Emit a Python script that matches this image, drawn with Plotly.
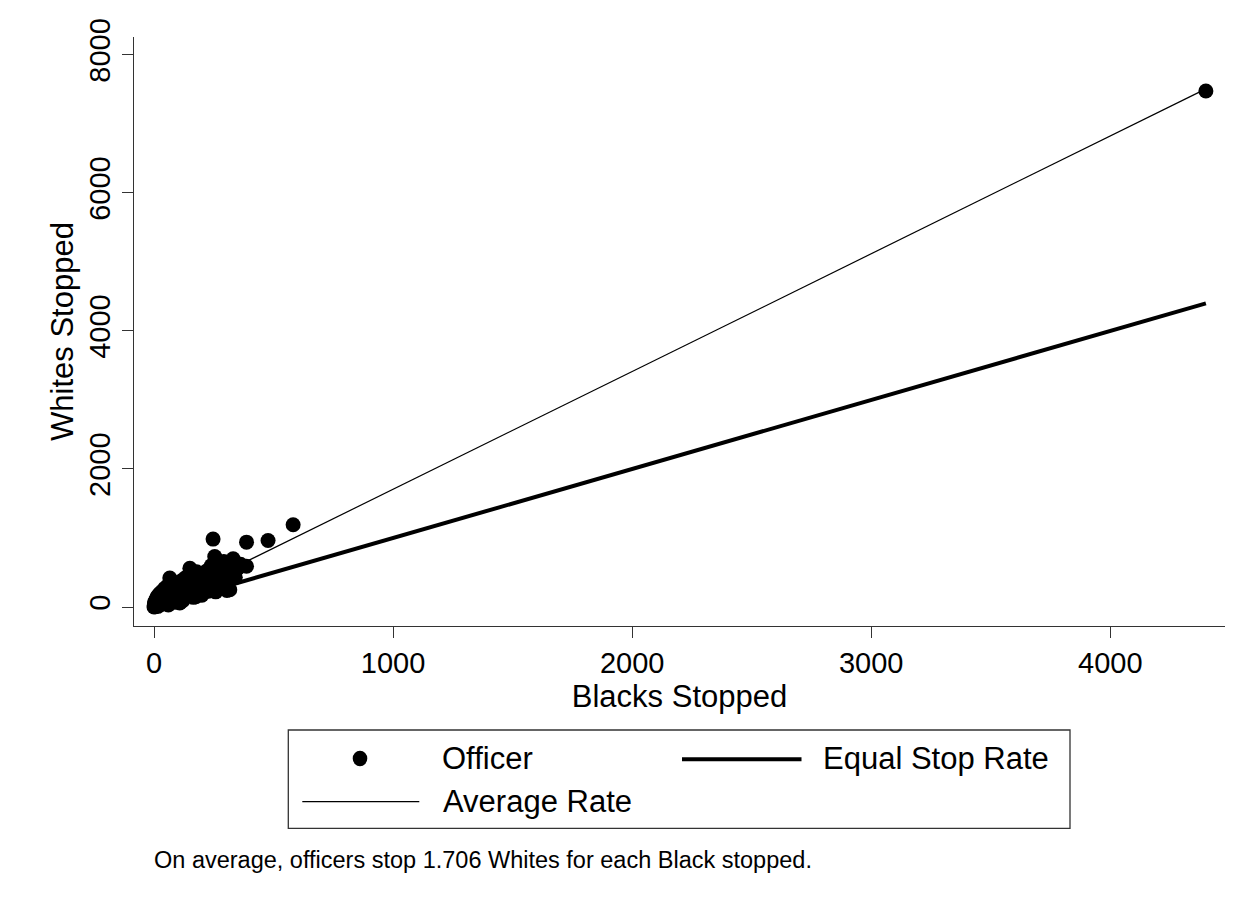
import plotly.graph_objects as go

# ---- data ----
blacks = [0, 1, 2, 3, 4, 5, 6, 8, 9, 10, 12, 13, 15, 16, 18, 20, 22, 24, 25, 28,
          30, 32, 35, 38, 40, 42, 45, 48, 50, 52, 55, 58, 60, 63, 66, 68, 70, 75, 78, 80,
          85, 88, 90, 95, 100, 105, 108, 110, 115, 120, 125, 130, 140, 145, 150, 152, 155, 165, 170, 175,
          178, 185, 190, 195, 200, 210, 215, 220, 228, 235, 240, 247, 248, 252, 254, 258, 262, 270, 278, 285,
          292, 300, 305, 312, 317, 325, 331, 340, 350, 362, 387, 387, 477, 582, 4400]
whites = [0, 20, 50, 10, 80, 30, 5, 60, 110, 20, 140, 45, 90, 10, 170, 60, 120, 30, 200, 80,
          150, 40, 230, 100, 180, 60, 270, 130, 210, 80, 300, 160, 30, 240, 420, 340, 150, 280, 100, 360,
          200, 70, 310, 250, 160, 330, 60, 220, 380, 90, 270, 420, 200, 340, 560, 460, 260, 140, 300, 150,
          510, 220, 450, 350, 170, 420, 280, 520, 230, 380, 600, 984, 300, 480, 732, 220, 620, 410, 280, 540,
          660, 360, 240, 500, 250, 600, 700, 430, 560, 620, 590, 940, 964, 1191, 7475]

equal_x = [0, 4400]
equal_y = [0, 4400]
avg_x = [0, 4400]
avg_y = [0, 7506]

x_ticks = [0, 1000, 2000, 3000, 4000]
y_ticks = [0, 2000, 4000, 6000, 8000]

note_text = "On average, officers stop 1.706 Whites for each Black stopped."

FONT = "Liberation Sans, Arial, sans-serif"
INK = "#000000"

# ---- geometry ----
W, H = 1240, 893
ML, MR, MT, MB = 126, 23, 29, 275
OFF = 8  # page body margin
PW = W - ML - MR
PH = H - MT - MB


def px_x(p):
    return (p - OFF - ML) / PW


def px_y(p):
    return (H - MB - (p - OFF)) / PH


fig = go.Figure()
fig.add_trace(go.Scatter(x=equal_x, y=equal_y, mode="lines", name="Equal Stop Rate",
                         line=dict(color=INK, width=4), showlegend=False, hoverinfo="skip"))
fig.add_trace(go.Scatter(x=avg_x, y=avg_y, mode="lines", name="Average Rate",
                         line=dict(color=INK, width=1.2), showlegend=False, hoverinfo="skip"))
fig.add_trace(go.Scatter(x=blacks, y=whites, mode="markers", name="Officer",
                         marker=dict(color=INK, size=15, line=dict(width=0)), showlegend=False))

axis_common = dict(
    showline=True, linecolor="#333333", linewidth=1.3,
    ticks="outside", ticklen=11, tickwidth=1.3, tickcolor="#333333",
    showgrid=False, zeroline=False,
    tickfont=dict(family=FONT, size=29, color=INK),
)

fig.update_xaxes(range=[-83.7, 4480], tickvals=x_ticks, ticktext=[str(v) for v in x_ticks],
                 title=dict(text="Blacks Stopped", font=dict(family=FONT, size=31, color=INK), standoff=0),
                 **axis_common)
fig.update_yaxes(range=[-275, 8258], tickvals=y_ticks, ticktext=[str(v) for v in y_ticks],
                 tickangle=-90,
                 title=dict(text="Whites Stopped", font=dict(family=FONT, size=31, color=INK), standoff=1),
                 **axis_common)

shapes = []
annotations = []
# legend box
shapes.append(dict(type="rect", xref="paper", yref="paper",
                   x0=px_x(288.3), x1=px_x(1070), y0=px_y(828.3), y1=px_y(730),
                   line=dict(color="#333333", width=1.3), fillcolor="white", layer="above"))
# Officer marker
shapes.append(dict(type="circle", xref="paper", yref="paper", xsizemode="pixel", ysizemode="pixel",
                   xanchor=px_x(360), yanchor=px_y(758.5), x0=-7.3, x1=7.3, y0=-7.8, y1=7.8,
                   fillcolor=INK, line=dict(width=0), layer="above"))
# Equal stop rate sample
shapes.append(dict(type="line", xref="paper", yref="paper",
                   x0=px_x(682), x1=px_x(801.5), y0=px_y(759.3), y1=px_y(759.3),
                   line=dict(color=INK, width=4), layer="above"))
# Average rate sample
shapes.append(dict(type="line", xref="paper", yref="paper",
                   x0=px_x(302.3), x1=px_x(419.3), y0=px_y(801.7), y1=px_y(801.7),
                   line=dict(color=INK, width=1.2), layer="above"))

leg_font = dict(family=FONT, size=31, color=INK)
for txt, xp, yp in [("Officer", 440, 758.5), ("Equal Stop Rate", 821, 758.5), ("Average Rate", 441, 801.5)]:
    annotations.append(dict(text=txt, xref="paper", yref="paper", x=px_x(xp), y=px_y(yp),
                            xanchor="left", yanchor="middle", showarrow=False, font=leg_font))

annotations.append(dict(text=note_text, xref="paper", yref="paper", x=px_x(152), y=px_y(860),
                        xanchor="left", yanchor="middle", showarrow=False,
                        font=dict(family=FONT, size=23.5, color=INK)))

fig.update_layout(
    width=W, height=H,
    margin=dict(l=ML, r=MR, t=MT, b=MB, autoexpand=False),
    paper_bgcolor="white", plot_bgcolor="white",
    showlegend=False,
    shapes=shapes, annotations=annotations,
    font=dict(family=FONT, color=INK),
)

fig.write_html("out.html")
